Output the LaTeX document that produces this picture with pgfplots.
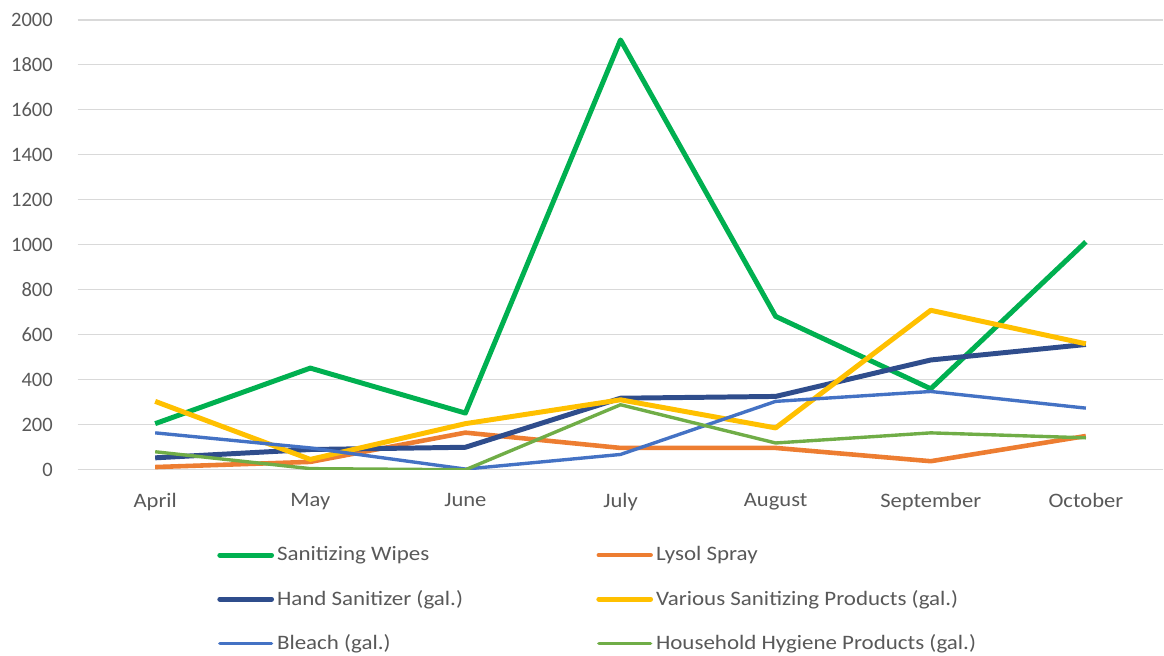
\documentclass[border=0pt]{standalone}
\usepackage{pgfplots}
\pgfplotsset{compat=1.18}
\usepackage{fontspec}
\setmainfont{Carlito}

\definecolor{wipes}{HTML}{00B050}
\definecolor{lysol}{HTML}{ED7D31}
\definecolor{hand}{HTML}{2F4D8C}
\definecolor{various}{HTML}{FFC000}
\definecolor{bleach}{HTML}{4472C4}
\definecolor{hygiene}{HTML}{70AD47}
\definecolor{gridc}{HTML}{D9D9D9}
\definecolor{txt}{HTML}{595959}

\newcommand{\legtxt}[1]{\scalebox{1.12}[1]{#1}}

\begin{document}
\begin{tikzpicture}
\path (-39pt,-90pt) rectangle (543pt,236pt);
\begin{axis}[
  at={(0,0)}, anchor=south west,
  scale only axis,
  width=545.5pt, height=226pt,
  xmin=-0.5, xmax=6.5,
  ymin=0, ymax=2000,
  xtick={0,...,6},
  xticklabels={April,May,June,July,August,September,October},
  ytick={0,200,...,2000},
  axis line style={draw=none},
  major tick length=0pt,
  ymajorgrids,
  grid style={gridc, line width=0.6pt},
  tick label style={font=\fontsize{10.3}{12}\selectfont, text=txt},
  /pgf/number format/assume math mode=true,
  /pgf/number format/1000 sep={},
  yticklabel style={xshift=-9pt},
  xticklabel style={yshift=-8.5pt, xscale=1.1},
  legend columns=2,
  legend cell align=left,
  legend style={at={(0.1283,-0.163)}, anchor=north west, draw=none,
    inner sep=0pt, font=\fontsize{10.3}{12}\selectfont, text=txt,
    row sep=10.3pt, nodes={inner sep=1.5pt},
    /tikz/every even column/.append style={column sep=65.5pt}},
  legend image code/.code={\draw[#1, line cap=round] (0pt,0pt) -- (26pt,0pt);},
  every axis plot/.append style={line join=round},
]
\addplot[wipes, line width=2.5pt] coordinates {(0,205) (1,452) (2,252) (3,1911) (4,682) (5,360) (6,1013)};
\addlegendentry{\legtxt{Sanitizing Wipes}}
\addplot[lysol, line width=2.3pt] coordinates {(0,12) (1,35) (2,165) (3,97) (4,97) (5,38) (6,150)};
\addlegendentry{\legtxt{Lysol Spray}}
\addplot[hand, line width=2.5pt] coordinates {(0,53) (1,90) (2,100) (3,318) (4,326) (5,488) (6,557)};
\addlegendentry{\legtxt{Hand Sanitizer (gal.)}}
\addplot[various, line width=2.5pt] coordinates {(0,304) (1,46) (2,205) (3,311) (4,186) (5,709) (6,560)};
\addlegendentry{\legtxt{Various Sanitizing Products (gal.)}}
\addplot[bleach, line width=1.7pt] coordinates {(0,164) (1,97) (2,3) (3,68) (4,304) (5,348) (6,274)};
\addlegendentry{\legtxt{Bleach (gal.)}}
\addplot[hygiene, line width=1.7pt] coordinates {(0,80) (1,5) (2,0) (3,289) (4,119) (5,164) (6,142)};
\addlegendentry{\legtxt{Household Hygiene Products (gal.)}}
\end{axis}
\end{tikzpicture}
\end{document}
